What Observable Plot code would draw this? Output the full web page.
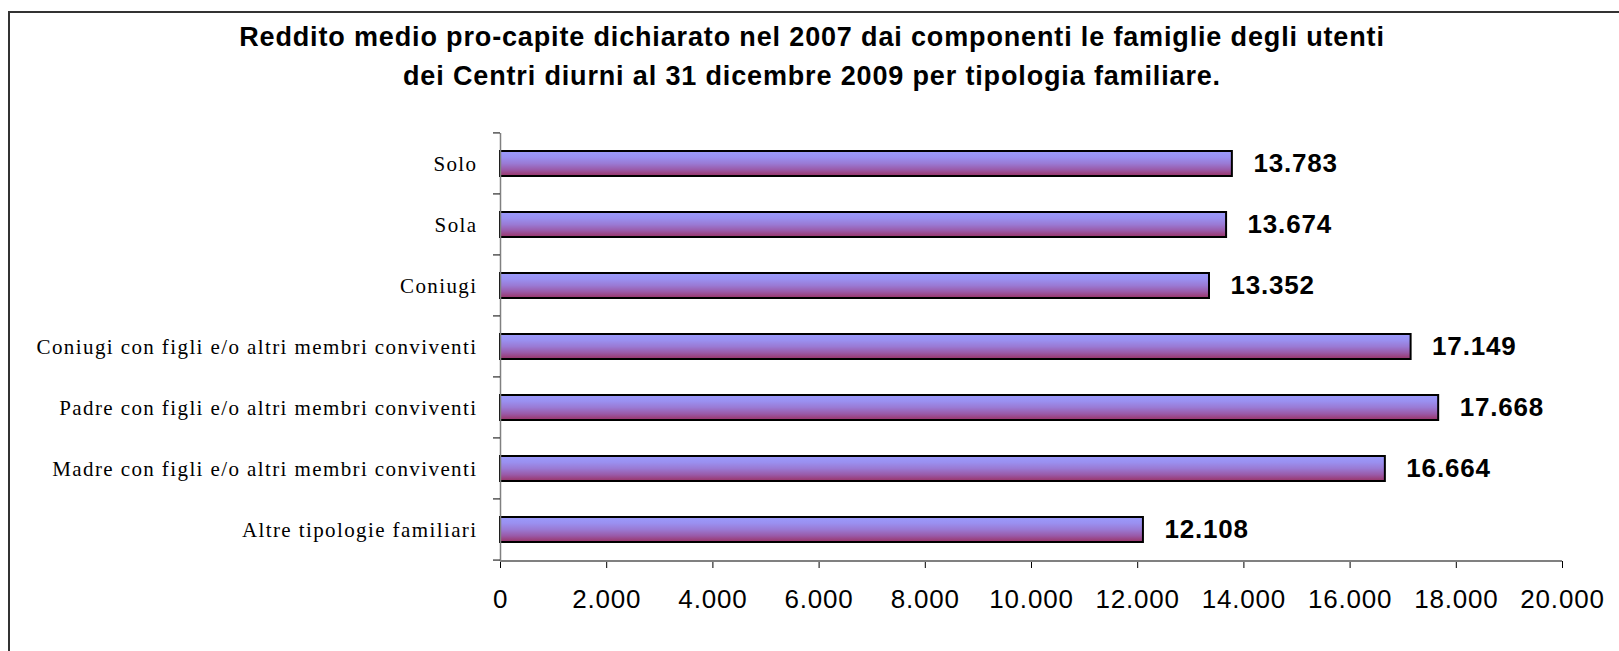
<!DOCTYPE html>
<html>
<head>
<meta charset="utf-8">
<script src="https://cdn.jsdelivr.net/npm/d3@7"></script>
<script src="https://cdn.jsdelivr.net/npm/@observablehq/plot@0.6"></script>
<style>
  html, body { margin: 0; padding: 0; background: #fff; overflow: hidden; }
  #wrap { position: relative; width: 1619px; height: 651px; overflow: hidden; }
  #frame { position: absolute; left: 8px; top: 11px; width: 1700px; height: 700px;
           border-left: 2px solid #333; border-top: 2px solid #333; box-sizing: border-box; }
  #title { position: absolute; left: 0; top: 18px; width: 1624px; text-align: center;
           font-family: "Liberation Sans", Arial, sans-serif; font-weight: bold; font-size: 27px;
           letter-spacing: 0.85px; line-height: 39px; color: #000; }
  #chart { position: absolute; left: 0; top: 100px; }
</style>
</head>
<body>
<div id="wrap">
  <div id="frame"></div>
  <div id="title">Reddito medio pro-capite dichiarato nel 2007 dai componenti le famiglie degli utenti<br>dei Centri diurni al 31 dicembre 2009 per tipologia familiare.</div>
  <div id="chart"></div>
</div>
<script>
const categories = [
  "Solo",
  "Sola",
  "Coniugi",
  "Coniugi con figli e/o altri membri conviventi",
  "Padre con figli e/o altri membri conviventi",
  "Madre con figli e/o altri membri conviventi",
  "Altre tipologie familiari"
];
const values = [13783, 13674, 13352, 17149, 17668, 16664, 12108];
const xTicks = [0, 2000, 4000, 6000, 8000, 10000, 12000, 14000, 16000, 18000, 20000];

const data = categories.map((c, i) => ({category: c, value: values[i]}));
const it = d3.formatLocale({decimal: ",", thousands: ".", grouping: [3], currency: ["", "€"]});
const fmt = it.format(",d");

// y-axis ticks at band boundaries + horizontal axis line
const axisDecor = (index, scales, vals, dims) => {
  const y = scales.y;
  const g = d3.create("svg:g");
  const top = dims.marginTop, bottom = dims.height - dims.marginBottom;
  const step = (bottom - top) / categories.length;
  const bw = y.bandwidth ? y.bandwidth() : 0;
  const bounds = categories.map(c => y(c) + bw / 2 - step / 2);
  bounds.push(y(categories[categories.length - 1]) + bw / 2 + step / 2);
  g.append("line").attr("x1", dims.marginLeft).attr("x2", dims.width - dims.marginRight)
    .attr("y1", bottom).attr("y2", bottom).attr("stroke", "#808080").attr("stroke-width", 2);
  for (const b of bounds) {
    g.append("line").attr("x1", dims.marginLeft - 7).attr("x2", dims.marginLeft)
      .attr("y1", b).attr("y2", b).attr("stroke", "#000").attr("stroke-width", 1);
  }
  return g.node();
};

const chart = Plot.plot({
  width: 1619,
  height: 551,
  marginLeft: 500,
  marginRight: 57,
  marginTop: 33,
  marginBottom: 90,
  style: {background: "transparent", overflow: "visible"},
  x: {domain: [0, 20000]},
  y: {domain: categories, paddingInner: 0.59, paddingOuter: 0.295},
  marks: [
    Plot.barX(data, {x: "value", y: "category", fill: "url(#barGrad)", stroke: "#000", strokeWidth: 2}),
    Plot.text(data, {x: "value", y: "category", text: d => fmt(d.value), textAnchor: "start", dx: 21,
      fontSize: 26, fontWeight: "bold", fill: "#000", fontFamily: "Liberation Sans, Arial, sans-serif"}),
    Plot.ruleX([0], {stroke: "#808080", strokeWidth: 1.5}),
    Plot.axisX({ticks: xTicks, tickFormat: fmt, tickSize: 7, tickPadding: 21, fontSize: 26,
      fontFamily: "Liberation Sans, Arial, sans-serif", label: null, stroke: "#000"}),
    Plot.axisY({tickSize: 0, tickPadding: 23, fontSize: 21, label: null,
      fontFamily: "Liberation Serif, Times New Roman, serif"}),
    axisDecor
  ]
});

const defs = d3.select(chart).insert("defs", ":first-child");
const grad = defs.append("linearGradient").attr("id", "barGrad")
  .attr("x1", 0).attr("y1", 0).attr("x2", 0).attr("y2", 1);
[["0%", "#9b9bfc"], ["25%", "#9a90f0"], ["50%", "#9a7ad4"], ["75%", "#9a5aa8"], ["100%", "#993366"]]
  .forEach(([o, c]) => grad.append("stop").attr("offset", o).attr("stop-color", c));
const svg = d3.select(chart);
svg.selectAll("text").attr("fill", "#000");
// widen letter spacing of axis labels to match the original's loose typesetting
svg.selectAll("g[aria-label='y-axis tick label'] text").style("letter-spacing", "1.4px");
svg.selectAll("g[aria-label='x-axis tick label'] text").style("letter-spacing", "0.8px");
svg.selectAll("g[aria-label='text'] text").style("letter-spacing", "0.8px");
document.getElementById("chart").appendChild(chart);
</script>
</body>
</html>
